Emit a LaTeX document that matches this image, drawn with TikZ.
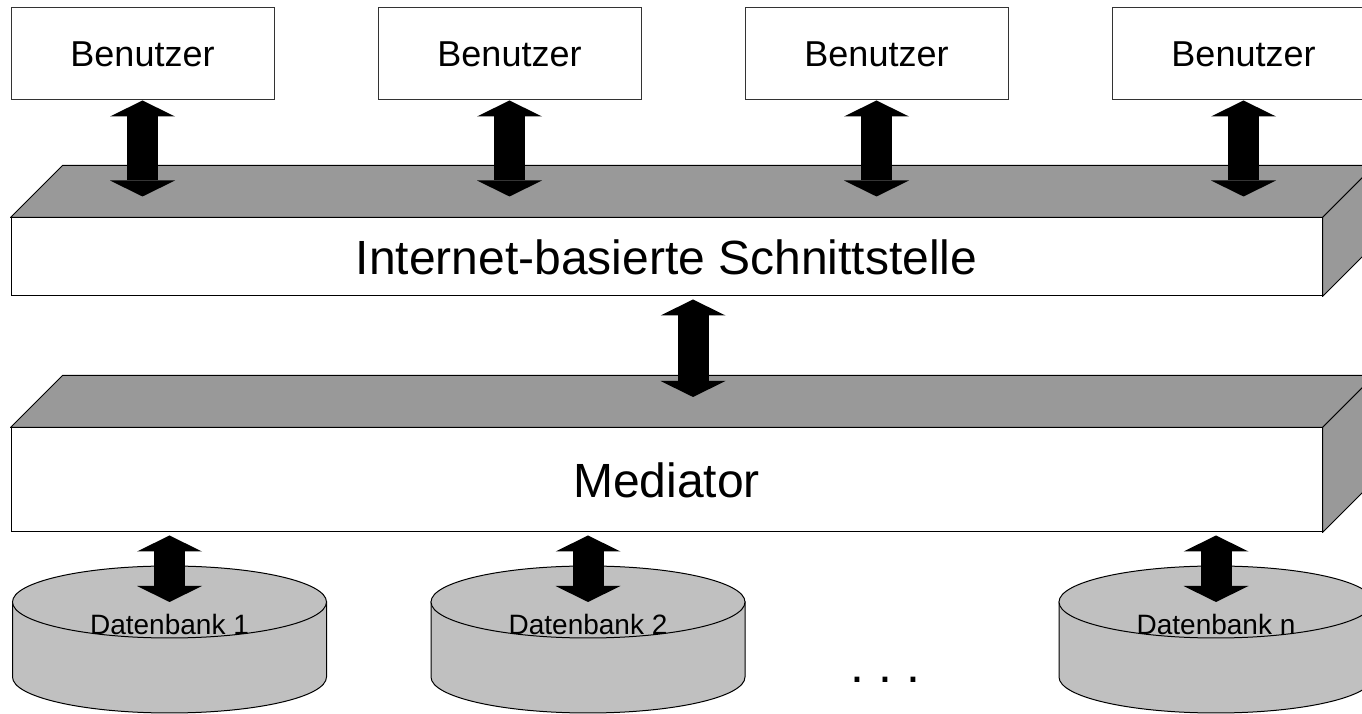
\documentclass[tikz,border=0pt]{standalone}
\usepackage{fontspec}
\setmainfont{Liberation Sans}
\usetikzlibrary{arrows.meta}
\definecolor{slabgray}{HTML}{999999}
\definecolor{dbgray}{HTML}{C0C0C0}
\tikzset{
  userbox/.style={draw=black!80, fill=white, line width=1pt, minimum width=263pt,
                  minimum height=92pt, inner sep=0pt, font=\fontsize{36pt}{40pt}\selectfont},
  slabfront/.style={draw, fill=white, line width=1pt, minimum width=1311pt,
                    inner sep=0pt, font=\fontsize{48pt}{56pt}\selectfont},
  slabface/.style={draw, fill=slabgray, line width=1pt, line join=round},
  dbbody/.style={draw, fill=dbgray, line width=1pt},
  dblabel/.style={anchor=base, inner sep=0pt, font=\fontsize{28pt}{32pt}\selectfont},
  link/.style={line width=31pt,
               {Triangle[width=65pt,length=16pt,line width=0pt]}-{Triangle[width=65pt,length=16pt,line width=0pt]}},
}

\begin{document}
\begin{tikzpicture}[x=1pt, y=1pt]
    \useasboundingbox (0,0) rectangle (1362,714);
    \clip (0,0) rectangle (1362,714);
    % users
    \foreach \i/\x in {1/142.5, 2/509.5, 3/876.5, 4/1243.5}
      \node[userbox] (u\i) at (\x,660) {Benutzer};
    % interface slab
    \node[slabfront, minimum height=78pt] (api) at (666.5,457) {Internet-basierte Schnittstelle};
    \draw[slabface] (api.north west) -- ++(52,52) -- ([shift={(52,52)}]api.north east) -- (api.north east) -- cycle;
    \draw[slabface] (api.north east) -- ++(52,52) -- ([shift={(52,52)}]api.south east) -- (api.south east) -- cycle;
    \coordinate (apiin) at ([yshift=21pt]api.north);
    \foreach \i in {1,...,4}
      \draw[link] (u\i.south) -- (u\i.south |- apiin);
    % mediator slab
    \node[slabfront, minimum height=104pt] (med) at (666.5,234) {Mediator};
    \draw[slabface] (med.north west) -- ++(52,52) -- ([shift={(52,52)}]med.north east) -- (med.north east) -- cycle;
    \draw[slabface] (med.north east) -- ++(52,52) -- ([shift={(52,52)}]med.south east) -- (med.south east) -- cycle;
    \coordinate (medin) at (693,317);
    \draw[link, shorten <=3pt] (api.south -| medin) -- (medin);
    % databases
    \foreach \n/\x in {1/169.5, 2/588, n/1216} {
      \draw[dbbody] (\x-157,112) -- (\x-157,37)
        arc[start angle=180, end angle=360, x radius=157, y radius=36] -- (\x+157,112) -- cycle;
      \draw[dbbody] (\x,112) ellipse[x radius=157, y radius=36];
      \coordinate (dbtop\n) at (\x,112);
      \node[dblabel] (db\n) at (\x,79) {Datenbank \n};
      \draw[link, shorten <=3pt] (dbtop\n |- med.south) -- (dbtop\n);
    }
    \node[anchor=base, inner sep=0pt, font=\fontsize{50pt}{60pt}\selectfont] (dots) at (885.5,31) {.\ .\ .};
\end{tikzpicture}
\end{document}
